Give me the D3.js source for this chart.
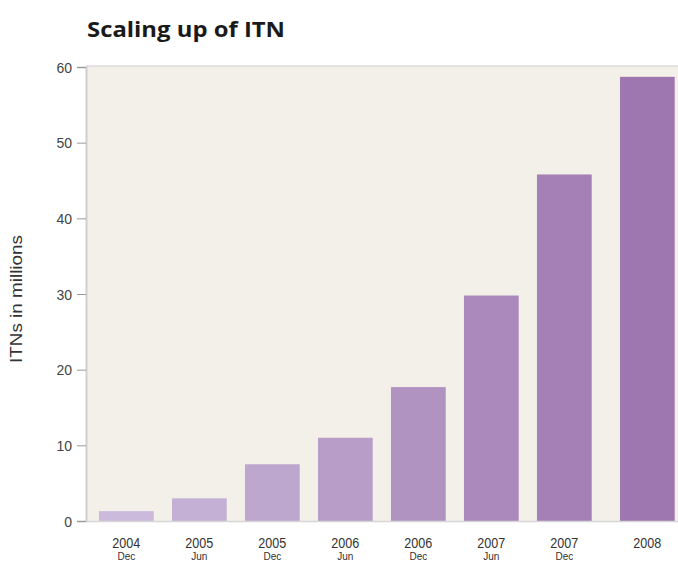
<!DOCTYPE html>
<html><head><meta charset="utf-8">
<script src="https://cdn.jsdelivr.net/npm/d3@7"></script>
<style>body{margin:0;background:#fff}svg{display:block}</style>
</head><body>
<svg id="c" width="678" height="563"></svg>
<script>
const years = ["2004","2005","2005","2006","2006","2007","2007","2008"];
const months = ["Dec","Jun","Dec","Jun","Dec","Jun","Dec",""];
const values = [1.3, 3.0, 7.5, 11.0, 17.7, 29.8, 45.8, 58.7];
const yTicks = [0,10,20,30,40,50,60];

(function(){
const svg = d3.select("#c");
const pL = 86, pR = 678, pT = 67, pB = 521;
const narrow = "'Liberation Sans','Arial',sans-serif";

svg.append("rect").attr("x", pL).attr("y", pT-1).attr("width", pR-pL).attr("height", pB-pT+1)
  .attr("fill", "#f3f0e9");
svg.append("line").attr("x1", pL).attr("x2", pR).attr("y1", pT-1).attr("y2", pT-1)
  .attr("stroke", "#dcdcdc").attr("stroke-width", 1.5);

const idx = values.map((d,i)=>i);
const x = d3.scaleBand().domain(idx).range([pL, 677.7]).paddingInner(0.25).paddingOuter(0.178);
const gapAfter = 6, gap = 10;
const xpos = i => x(i) + (i > gapAfter ? gap : 0);
const y = d3.scaleLinear().domain([0,60]).range([pB, pT]);
const color = d3.scaleLinear().domain([0, values.length-1]).range(["#cbbadb","#9e76b0"]);

svg.selectAll("rect.bar").data(values).join("rect").attr("class","bar")
  .attr("x", (d,i)=>xpos(i)).attr("width", x.bandwidth())
  .attr("y", d=>y(d)).attr("height", d=>y(0)-y(d))
  .attr("fill", (d,i)=>color(i));

const ya = svg.append("g").attr("transform", `translate(${pL},0)`)
  .call(d3.axisLeft(y).tickValues(yTicks).tickSize(9).tickPadding(5));
ya.select(".domain").attr("stroke", "#cfcfcf").attr("stroke-width", 2);
ya.selectAll(".tick line").attr("stroke", "#999");
ya.selectAll(".tick text").attr("fill", "#444").style("font-family", narrow)
  .style("font-size", "14px").attr("dy","0.36em");

svg.append("line").attr("x1", pL).attr("x2", pR).attr("y1", pB+0.5).attr("y2", pB+0.5)
  .attr("stroke", "#d6d6d6").attr("stroke-width", 1.5);

const xl = svg.append("g");
xl.selectAll("text.yr").data(years).join("text").attr("class","yr")
  .attr("x", (d,i)=>xpos(i)+x.bandwidth()/2).attr("y", 548)
  .attr("text-anchor","middle").attr("fill","#333")
  .style("font-family", narrow).style("font-size","14px")
  .attr("textLength", 28).attr("lengthAdjust","spacingAndGlyphs").text(d=>d);
xl.selectAll("text.mo").data(months).join("text").attr("class","mo")
  .attr("x", (d,i)=>xpos(i)+x.bandwidth()/2).attr("y", 560)
  .attr("text-anchor","middle").attr("fill","#333")
  .style("font-family", narrow).style("font-size","10px").text(d=>d);

svg.append("text").attr("transform","translate(22,299) rotate(-90)")
  .attr("text-anchor","middle").attr("fill","#333")
  .style("font-family", narrow).style("font-size","16px")
  .attr("textLength", 128).attr("lengthAdjust","spacingAndGlyphs").text("ITNs in millions");

svg.append("text").attr("x", 87).attr("y", 37)
  .attr("fill","#1a1a1a").style("font-family","'Open Sans',sans-serif").style("font-weight","bold")
  .style("font-size","21px").attr("textLength", 198).attr("lengthAdjust","spacingAndGlyphs")
  .text("Scaling up of ITN");
})();
</script>
</body></html>
